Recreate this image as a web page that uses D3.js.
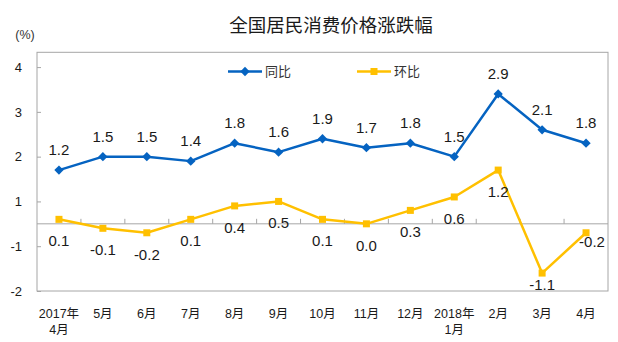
<!DOCTYPE html>
<html>
<head>
<meta charset="utf-8">
<script src="https://d3js.org/d3.v7.min.js"></script>
<style>
  html, body { margin: 0; padding: 0; background: #fff; }
  svg { display: block; }
  text { font-family: Arial, "Liberation Sans", "Noto Sans CJK SC", sans-serif; fill: #1a1a1a; }
</style>
</head>
<body>
<script>
// ---- data ----
const categories = ["2017年\n4月", "5月", "6月", "7月", "8月", "9月", "10月", "11月", "12月", "2018年\n1月", "2月", "3月", "4月"];
const yoy = [1.2, 1.5, 1.5, 1.4, 1.8, 1.6, 1.9, 1.7, 1.8, 1.5, 2.9, 2.1, 1.8];   // 同比
const mom = [0.1, -0.1, -0.2, 0.1, 0.4, 0.5, 0.1, 0.0, 0.3, 0.6, 1.2, -1.1, -0.2]; // 环比
const seriesNames = ["同比", "环比"];
// tick marks as drawn in the source (positions) and the labels printed beside them
const yTickValues = [3.5, 2.5, 1.5, 0.5, -0.5, -1.5];
const yTickLabels = ["4", "3", "2", "1", "-1", "-2"];
const title = "全国居民消费价格涨跌幅";
const unitLabel = "(%)";

// ---- layout ----
const W = 618, H = 342;
const plot = { left: 37, right: 608, top: 52.3, bottom: 291 };
const blue = "#0563C1", yellow = "#FFC000", gridGray = "#a6a6a6";

const svg = d3.select("body").append("svg").attr("width", W).attr("height", H);

const x = d3.scaleBand().domain(categories).range([plot.left, plot.right]).padding(0);
const y = d3.scaleLinear().domain([-1.5, 3.83]).range([plot.bottom, plot.top]);
const cx = d => x(d) + x.bandwidth() / 2;

// title
svg.append("text").attr("x", 331).attr("y", 32).attr("text-anchor", "middle")
  .style("font-size", "18.5px").style("font-family", "'Noto Sans CJK SC', sans-serif")
  .text(title);

// plot border
svg.append("rect").attr("x", plot.left).attr("y", plot.top)
  .attr("width", plot.right - plot.left).attr("height", plot.bottom - plot.top)
  .attr("fill", "none").attr("stroke", gridGray).attr("stroke-width", 1);

// y axis (left) with inward ticks
const yAxis = d3.axisRight(y).tickValues(yTickValues).tickSize(4)
  .tickFormat((d, i) => yTickLabels[i]);
const gy = svg.append("g").attr("transform", `translate(${plot.left},0)`).call(yAxis);
gy.select(".domain").remove();
gy.selectAll(".tick line").attr("stroke", gridGray);
gy.selectAll(".tick text").attr("x", -15).attr("text-anchor", "end")
  .style("font-size", "13px").style("fill", "#1a1a1a");

svg.append("text").attr("x", 25).attr("y", 39).attr("text-anchor", "middle")
  .style("font-size", "12.5px").style("fill", "#333").text(unitLabel);

// zero baseline with upward ticks at category boundaries
const y0 = y(0);
svg.append("line").attr("x1", plot.left).attr("x2", plot.right)
  .attr("y1", y0).attr("y2", y0).attr("stroke", gridGray).attr("stroke-width", 1);
svg.append("g").selectAll("line").data(categories.slice(1)).join("line")
  .attr("x1", d => x(d)).attr("x2", d => x(d))
  .attr("y1", y0).attr("y2", y0 - 5).attr("stroke", gridGray);

// x category labels
const gx = svg.append("g");
categories.forEach(c => {
  const parts = c.split("\n");
  const t = gx.append("text").attr("x", cx(c)).attr("y", 318)
    .attr("text-anchor", "middle").style("font-size", "12.5px");
  parts.forEach((p, i) => {
    t.append("tspan").attr("x", cx(c)).attr("dy", i === 0 ? 0 : 16).text(p);
  });
});

// lines
const line = d3.line().x((d, i) => cx(categories[i])).y(d => y(d));
svg.append("path").datum(mom).attr("d", line).attr("fill", "none")
  .attr("stroke", yellow).attr("stroke-width", 2.5).attr("stroke-linejoin", "round");
svg.append("path").datum(yoy).attr("d", line).attr("fill", "none")
  .attr("stroke", blue).attr("stroke-width", 2.5).attr("stroke-linejoin", "round");

// markers
const diamond = d3.symbol().type(d3.symbolDiamond2).size(55);
svg.append("g").selectAll("path").data(yoy).join("path")
  .attr("d", diamond)
  .attr("transform", (d, i) => `translate(${cx(categories[i])},${y(d)})`)
  .attr("fill", blue);
svg.append("g").selectAll("rect").data(mom).join("rect")
  .attr("x", (d, i) => cx(categories[i]) - 3.5).attr("y", d => y(d) - 3.5)
  .attr("width", 7).attr("height", 7).attr("fill", yellow);

// data labels (hyphen-minus as in the source)
const fmt = d => d.toFixed(1);
svg.append("g").selectAll("text").data(yoy).join("text")
  .attr("x", (d, i) => cx(categories[i]))
  .attr("y", d => y(d) - 15)
  .attr("text-anchor", "middle").style("font-size", "15px")
  .text(d => fmt(d));

svg.append("g").selectAll("text").data(mom).join("text")
  .attr("x", (d, i) => cx(categories[i]) + (i === mom.length - 1 ? 6 : 0))
  .attr("y", (d, i) => {
    const py = y(d);
    if (i === 11) return py + 17;           // pushed up against the frame
    if (i === mom.length - 1) return py + 14;
    return py + 27;
  })
  .attr("text-anchor", "middle").style("font-size", "15px")
  .text(d => fmt(d));

// legend
const legend = [
  { name: seriesNames[0], color: blue, x: 228, marker: "diamond" },
  { name: seriesNames[1], color: yellow, x: 357, marker: "square" }
];
const ly = 71.5;
legend.forEach(l => {
  svg.append("line").attr("x1", l.x).attr("x2", l.x + 34).attr("y1", ly).attr("y2", ly)
    .attr("stroke", l.color).attr("stroke-width", 2.5);
  if (l.marker === "diamond") {
    svg.append("path").attr("d", diamond).attr("transform", `translate(${l.x + 17},${ly})`).attr("fill", l.color);
  } else {
    svg.append("rect").attr("x", l.x + 17 - 3.5).attr("y", ly - 3.5).attr("width", 7).attr("height", 7).attr("fill", l.color);
  }
  svg.append("text").attr("x", l.x + 37).attr("y", ly + 4.5)
    .style("font-size", "13px").style("font-family", "'Noto Sans CJK SC', sans-serif")
    .style("fill", "#333").text(l.name);
});
</script>
</body>
</html>
